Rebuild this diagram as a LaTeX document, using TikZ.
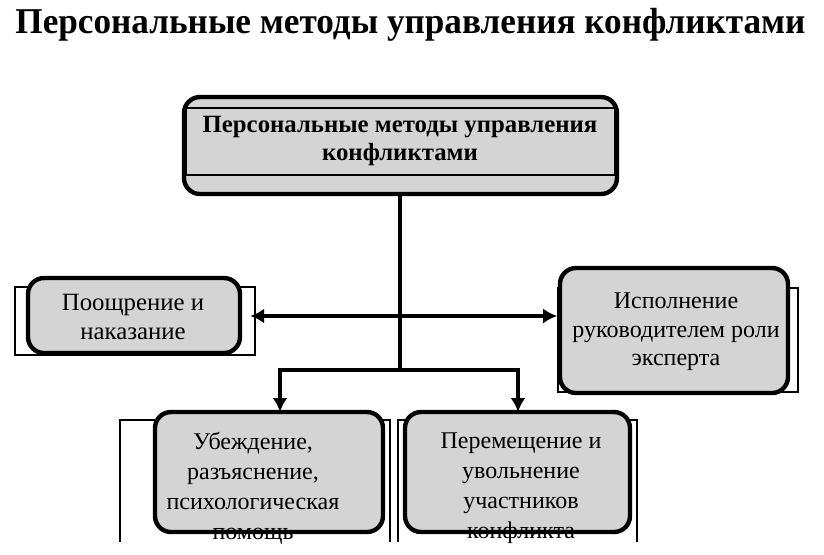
\documentclass[tikz,border=0pt]{standalone}
\usepackage{fontspec}
\setmainfont{Liberation Serif}
\usetikzlibrary{arrows.meta, positioning}
\tikzset{>=latex}
\definecolor{boxgray}{RGB}{212,212,212}
\tikzset{
    rbox/.style={draw, line width=2.2pt, rounded corners=8pt, fill=boxgray, inner sep=0pt},
    thinframe/.style={draw, line width=0.8pt, inner sep=0pt},
    link/.style={line width=2pt, line join=miter},
    tip/.style={-{Latex[length=7pt,width=7.5pt]}},
    boxtext/.style={align=center, inner sep=0pt, font=\fontsize{12}{14.5}\selectfont}
}

\begin{document}
\begin{tikzpicture}[x=0.5pt, y=-0.5pt]
    \useasboundingbox (0,0) rectangle (824,554);

    % Title
    \node[anchor=base west, inner sep=0pt] (title) at (15,33)
        {\resizebox{395pt}{12.6pt}{\bfseries Персональные методы управления конфликтами}};

    % Top box
    \node[rbox, minimum width=216.5pt, minimum height=48.5pt] (head) at (400.5,145.5) {};
    \draw[line width=1.2pt] (186,108) rectangle (615,175);
    \node[boxtext, font=\bfseries\fontsize{12.4}{14}\selectfont] (headtext) at (400,141)
        {Персональные методы управления\\конфликтами};

    % Side frames and boxes
    \node[thinframe, minimum width=120pt, minimum height=34pt] (lframe) at (135,321) {};
    \node[rbox, minimum width=106pt, minimum height=37.5pt] (lbox) at (134,315.5) {};
    \node[boxtext, font=\fontsize{12.4}{14.5}\selectfont] (ltext) at (133,317) {Поощрение и\\наказание};

    \node[thinframe, minimum width=120pt, minimum height=52pt] (rframe) at (678,340) {};
    \node[rbox, minimum width=114pt, minimum height=62.5pt] (rbox) at (674,330.5) {};
    \node[boxtext, font=\fontsize{12}{14.25}\selectfont] (rtext) at (676,332)
        {Исполнение\\руководителем роли\\эксперта};

    % Bottom frames (open below)
    \draw[line width=0.8pt] (120,542) |- (390,420) -- (390,542);
    \draw[line width=0.8pt] (398,542) |- (637,420) -- (637,542);

    \node[rbox, minimum width=114pt, minimum height=60pt] (blbox) at (269,472) {};
    \node[rbox, minimum width=112.5pt, minimum height=60pt] (brbox) at (517.5,472) {};
    \node[boxtext, font=\fontsize{12}{15}\selectfont] (bltext) at (253,488)
        {Убеждение,\\разъяснение,\\психологическая\\помощь};
    \node[boxtext, font=\fontsize{12}{15}\selectfont] (brtext) at (521,488)
        {Перемещение и\\увольнение\\участников\\конфликта};

    % Connectors
    \coordinate (mid) at (400,316);
    \coordinate (split) at (400,370);
    \coordinate (blin) at (280,412);
    \coordinate (brin) at (518,412);

    \draw[link] (head.south -| split) -- (split);
    \draw[link, {Latex[length=7pt,width=7.5pt]}-{Latex[length=7pt,width=7.5pt]}]
        ([xshift=4pt]lbox.east |- mid) -- (rframe.west |- mid);
    \draw[link, tip] (split) -| (blin);
    \draw[link, tip] (split) -| (brin);

\end{tikzpicture}
\end{document}
